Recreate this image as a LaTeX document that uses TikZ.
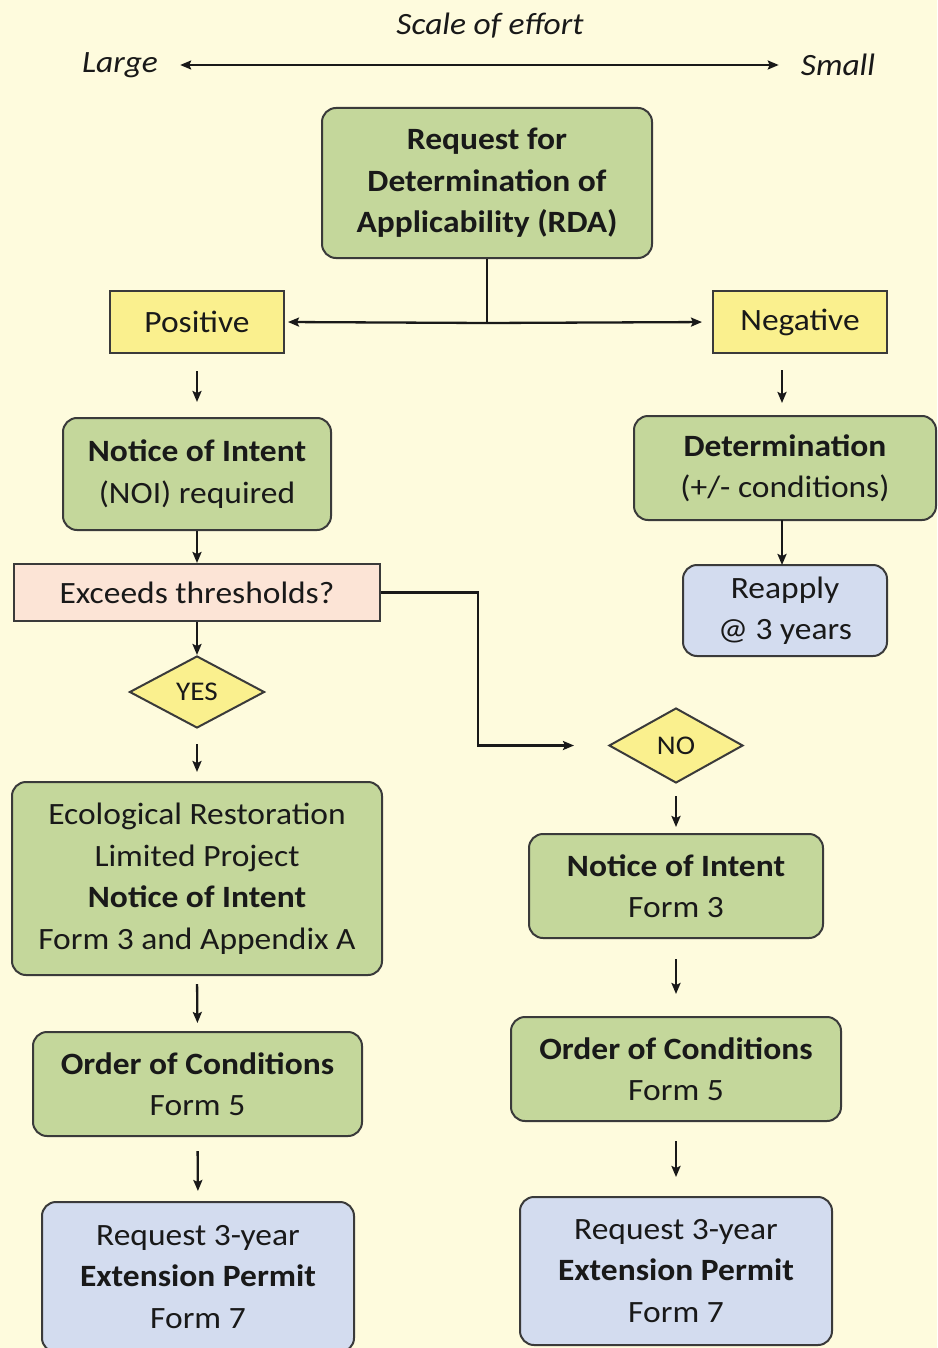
\documentclass[tikz,border=0pt]{standalone}
\usepackage{fontspec}
\setmainfont{Carlito}[FakeStretch=1.08]
\usetikzlibrary{shapes.geometric,arrows.meta}
\definecolor{bgc}{HTML}{FEFBDD}
\definecolor{grn}{HTML}{C4D79B}
\definecolor{ylw}{HTML}{FAF08E}
\definecolor{pnk}{HTML}{FCE4D6}
\definecolor{blu}{HTML}{D3DCEF}
\definecolor{brd}{HTML}{3A3A3A}
\tikzset{
  base/.style={draw=brd, line width=2pt, inner sep=0pt, align=center, text=black!90,
    font=\fontsize{31}{41.5}\selectfont},
  gbox/.style={base, fill=grn, rounded corners=14pt},
  bbox/.style={base, fill=blu, rounded corners=14pt},
  ybox/.style={base, fill=ylw},
  pbox/.style={base, fill=pnk},
  dia/.style={base, diamond, fill=ylw, font=\fontsize{27}{30}\selectfont},
  tip/.tip={Stealth[length=11pt,width=9pt,inset=2pt]},
  conn/.style={line width=2.3pt, draw=black!90, -tip},
  plain/.style={line width=2.3pt, draw=black!90},
  lbl/.style={font=\fontsize{31}{38}\selectfont\itshape, text=black!90, inner sep=0pt}
}
\begin{document}
\begin{tikzpicture}[x=1pt,y=-1pt]
\fill[bgc] (0,0) rectangle (937,1348);
\useasboundingbox (0,0) rectangle (937,1348);
\clip (0,0) rectangle (937,1348);

% header
\node[lbl] (title) at (490,26) {Scale of effort};
\node[lbl] (large) at (120,65) {Large};
\node[lbl] (small) at (838,65) {Small};
\draw[line width=2.3pt, draw=black!90, tip-tip, shorten <=22pt, shorten >=22pt] (large.east) -- (small.west);

% nodes
\node[gbox, minimum width=330pt, minimum height=150pt] (rda) at (487,183)
  {\bfseries Request for\\\bfseries Determination of\\\bfseries Applicability (RDA)};
\node[ybox, minimum width=174pt, minimum height=62pt] (pos) at (197,322) {Positive};
\node[ybox, minimum width=174pt, minimum height=62pt] (neg) at (800,322) {Negative};
\node[gbox, minimum width=268pt, minimum height=112pt] (noi) at (197,474)
  {\bfseries Notice of Intent\\(NOI) required};
\node[gbox, minimum width=302pt, minimum height=104pt] (det) at (785,468)
  {\bfseries Determination\\(+/- conditions)};
\node[pbox, minimum width=366pt, minimum height=57pt] (exc) at (197,592.5) {Exceeds thresholds?};
\node[bbox, minimum width=204pt, minimum height=91pt] (reap) at (785,610.5) {Reapply\\@ 3 years};
\node[dia, minimum width=135pt, minimum height=72pt] (yes) at (197,692) {YES};
\node[dia, minimum width=134pt, minimum height=75pt] (no) at (676,745.5) {NO};
\node[gbox, minimum width=370pt, minimum height=193pt] (er) at (197,878.5)
  {Ecological Restoration\\Limited Project\\\bfseries Notice of Intent\\Form 3 and Appendix A};
\node[gbox, minimum width=294pt, minimum height=104pt] (nf3) at (676,886)
  {\bfseries Notice of Intent\\Form 3};
\node[gbox, minimum width=329pt, minimum height=104pt] (ocl) at (197.5,1084)
  {\bfseries Order of Conditions\\Form 5};
\node[gbox, minimum width=330pt, minimum height=104pt] (ocr) at (676,1069)
  {\bfseries Order of Conditions\\Form 5};
\node[bbox, minimum width=312pt, minimum height=150pt] (rql) at (198,1277)
  {Request 3-year\\\bfseries Extension Permit\\Form 7};
\node[bbox, minimum width=312pt, minimum height=148pt] (rqr) at (676,1271)
  {Request 3-year\\\bfseries Extension Permit\\Form 7};

% connectors
\coordinate (split) at (487,323);
\coordinate (negdown) at (782,353);
\coordinate (detup) at (782,416);
\coordinate (detdown) at (782,520);
\coordinate (reapup) at (782,565);
\draw[plain] (rda.south) -- (split);
\draw[conn, shorten >=3pt] (split) -- (pos.east);
\draw[conn, shorten >=10pt] (split) -- (neg.west);
\draw[conn, shorten <=17pt, shorten >=15pt] (pos.south) -- (noi.north);
\draw[conn, shorten <=17pt, shorten >=13pt] (negdown) -- (detup);
\draw[conn] (noi.south) -- (exc.north);
\draw[conn] (detdown) -- (reapup);
\draw[conn] (exc.south) -- (yes.north);
\coordinate (jog) at (478,592.5);
\draw[conn, shorten >=34pt] (exc.east) -- (jog) |- (no.west);
\draw[conn, shorten <=15pt, shorten >=9pt] (yes.south) -- (er.north);
\draw[conn, shorten <=12pt, shorten >=6pt] (no.south) -- (nf3.north);
\draw[conn, shorten <=8pt, shorten >=8pt] (er.south) -- (ocl.north);
\draw[conn, shorten <=20pt, shorten >=22pt] (nf3.south) -- (ocr.north);
\draw[conn, shorten <=14pt, shorten >=10pt] (ocl.south) -- (rql.north);
\draw[conn, shorten <=19pt, shorten >=19pt] (ocr.south) -- (rqr.north);
\end{tikzpicture}
\end{document}
